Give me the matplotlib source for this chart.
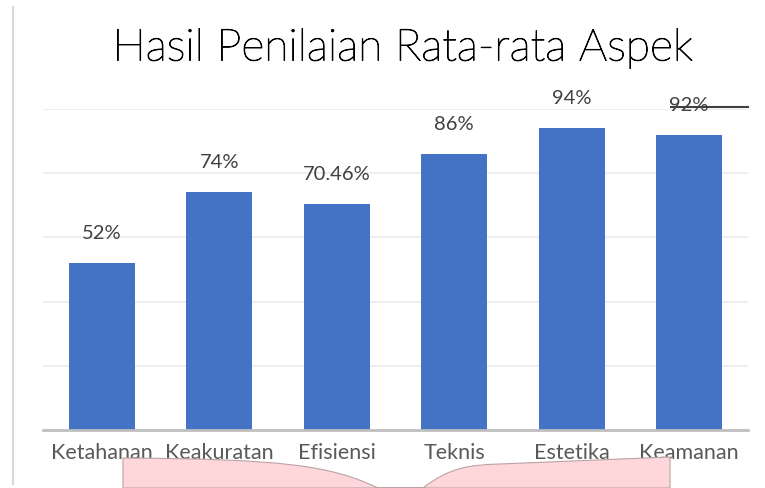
import matplotlib
matplotlib.use("Agg")
from matplotlib import pyplot as plt
from matplotlib import patheffects
from matplotlib.path import Path
from matplotlib.patches import PathPatch
from matplotlib.lines import Line2D

plt.rcParams['font.family'] = ['Lato', 'DejaVu Sans']

aspek = ['Ketahanan', 'Keakuratan', 'Efisiensi', 'Teknis', 'Estetika', 'Keamanan']
nilai = [0.52, 0.74, 0.7046, 0.86, 0.94, 0.92]
label = ['52%', '74%', '70.46%', '86%', '94%', '92%']

W, H = 765, 489
fig = plt.figure(figsize=(W / 100, H / 100), dpi=100)

# plot area in pixels: x 43..748, y 110..431
ax = fig.add_axes([43 / W, (H - 431) / H, 705 / W, (431 - 110) / H])
x = range(len(aspek))
ax.bar(x, nilai, width=0.56, color='#4472c4', zorder=2)
ax.set_xlim(-0.5, len(aspek) - 0.5)
ax.set_ylim(0, 1)
ax.set_yticks([0.2, 0.4, 0.6, 0.8, 1.0])
ax.yaxis.grid(True, color='#ededed', linewidth=1.3, zorder=0)
ax.tick_params(axis='y', left=False, labelleft=False)
ax.tick_params(axis='x', bottom=False, pad=5, labelsize=15.5, labelcolor='#595959')
ax.set_xticks(list(x))
ax.set_xticklabels(aspek)
for s in ['top', 'right', 'left']:
    ax.spines[s].set_visible(False)
ax.spines['bottom'].set_color('#bfbfbf')
ax.spines['bottom'].set_linewidth(2)

for i, v in enumerate(nilai):
    ax.annotate(label[i], (i, v), xytext=(0, 22), textcoords='offset points',
                ha='center', va='center', fontsize=14.5, color='#404040')

fig.text(403 / W, 1 - 50 / H, 'Hasil Penilaian Rata-rata Aspek', ha='center', va='center',
         fontsize=32, fontweight='light', color='#000000',
         path_effects=[patheffects.withStroke(linewidth=0.7, foreground='#000000')])

# left border line
fig.add_artist(Line2D([13 / W, 13 / W], [1 - 8 / H, 1 - 485 / H], color='#d9d9d9', linewidth=1.5))
# stray line through the last label
fig.add_artist(Line2D([671 / W, 748 / W], [1 - 108 / H, 1 - 108 / H], color='#404040', linewidth=1.5))

# pink shape at the bottom
def px(p):
    return (p[0] / W, 1 - p[1] / H)

verts = [(123, 489), (123, 459),
         (280, 460), (330, 466), (378, 489),
         (423, 489),
         (450, 468), (470, 466), (500, 465),
         (670, 458), (670, 489), (123, 489)]
codes = [Path.MOVETO, Path.LINETO,
         Path.CURVE4, Path.CURVE4, Path.CURVE4,
         Path.LINETO,
         Path.CURVE4, Path.CURVE4, Path.CURVE4,
         Path.LINETO, Path.LINETO, Path.CLOSEPOLY]
shape = PathPatch(Path([px(v) for v in verts], codes), transform=fig.transFigure,
                  facecolor='#ffd7da', edgecolor='#b9a3a5', linewidth=0.8)
fig.add_artist(shape)

fig.savefig('out.png', dpi=100)
